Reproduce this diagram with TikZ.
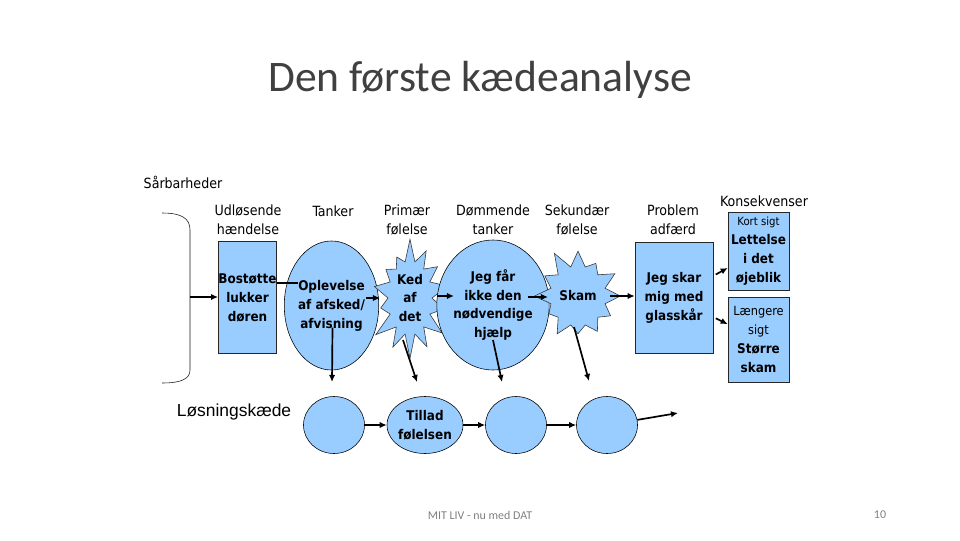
\documentclass[tikz,border=0pt]{standalone}
\usepackage{fontspec}
\setmainfont{Carlito}
\newfontfamily\labelfont{DejaVu Sans Condensed}
\newfontfamily\arialfont{Liberation Sans}
\usetikzlibrary{shapes.geometric,shapes.symbols,arrows.meta,calc}
\definecolor{boxblue}{RGB}{153,204,255}

\begin{document}
\begin{tikzpicture}[x=0.025cm,y=-0.025cm,
    lbl/.style={font=\labelfont\fontsize{10}{13.5}\selectfont, align=center, inner sep=0pt},
    chainbox/.style={draw=black!85, fill=boxblue, align=center, inner sep=0pt,
        font=\labelfont\bfseries\fontsize{9.5}{13.5}\selectfont},
    chainoval/.style={chainbox, draw=black, shape=ellipse},
    burst/.style={chainbox, draw=black!80, shape=starburst, starburst points=14,
        starburst point height=0.6cm, random starburst=7},
    arr/.style={-{Latex[length=5pt,width=4.5pt]}, line width=1.2pt}]
    \useasboundingbox (0,0) rectangle (960,540);

    % Title
    \node[text=black!75] (title) at (480,80) {\fontsize{31}{36}\selectfont Den første kædeanalyse};

    % Column headings
    \node[lbl] (sarb) at (183,182) {Sårbarheder};
    \node[lbl] (hudl) at (248,220) {Udløsende\\hændelse};
    \node[lbl] (htank) at (333,211) {Tanker};
    \node[lbl] (hprim) at (407,220) {Primær\\følelse};
    \node[lbl] (hdoem) at (493,220) {Dømmende\\tanker};
    \node[lbl] (hsek) at (577,220) {Sekundær\\følelse};
    \node[lbl] (hprob) at (673,220) {Problem\\adfærd};
    \node[lbl] (hkons) at (764,201) {Konsekvenser};

    % Bracket for vulnerabilities
    \draw[black!90] (162,213) .. controls (181,213) and (190,218) .. (190,230) -- (190,370)
        .. controls (190,379) and (181,383) .. (162,383);
    \coordinate (brk) at (190,297);

    % Chain analysis
    \node[chainbox, minimum width=1.45cm, minimum height=2.8cm] (bost) at (247.5,297.5) {Bostøtte\\lukker\\døren};
    \node[chainoval, minimum width=1.775cm, minimum height=3.225cm] (tank) at (331.5,305.5) {Oplevelse\\af afsked/\\afvisning};
    \node[burst, minimum width=2.3cm, minimum height=3.05cm] (ked) at (410,298) {Ked\\af\\det};
    \node[chainoval, minimum width=2cm, minimum height=3.25cm] (doem) at (493,305) {Jeg får\\ikke den\\nødvendige\\hjælp};
    \node[burst, minimum width=2.4cm, minimum height=2.5cm, starburst points=12,
        starburst point height=0.5cm, random starburst=11] (skam) at (578,296) {Skam};
    \node[chainbox, minimum width=1.95cm, minimum height=2.775cm] (prob) at (674,297.5) {Jeg skar\\mig med\\glasskår};
    \node[chainbox, minimum width=1.525cm, minimum height=1.95cm] (kort) at (758.5,251)
        {{\mdseries\fontsize{8}{13}\selectfont Kort sigt}\\Lettelse\\i det\\øjeblik};
    \node[chainbox, minimum width=1.525cm, minimum height=2.125cm] (lang) at (758.5,339.5)
        {{\mdseries\fontsize{9}{13.5}\selectfont Længere}\\{\mdseries\fontsize{9}{13.5}\selectfont sigt}\\Større\\skam};

    \draw[arr] (brk) -- (bost.west |- brk);
    \draw[line width=1.2pt] (bost.east |- 0,283) -- (298,283);
    \draw[arr] (366,298) -- (380,298);
    \draw[arr] (437,296) -- (454,296);
    \draw[arr] (528,297) -- (548,297);
    \draw[arr] (610,296) -- (prob.west |- 0,296);
    \draw[arr, shorten <=2pt] (prob) -- (kort);
    \draw[arr, shorten <=2pt] (prob) -- (lang);

    % Solution chain
    \node[font=\arialfont\fontsize{12.4}{15}\selectfont] (losn) at (234,412) {Løsningskæde};
    \node[chainoval, minimum width=1.525cm, minimum height=1.425cm] (c1) at (334,425) {};
    \node[chainoval, minimum width=1.525cm, minimum height=1.425cm] (c2) at (425,425) {Tillad\\følelsen};
    \node[chainoval, minimum width=1.525cm, minimum height=1.425cm] (c3) at (516,425) {};
    \node[chainoval, minimum width=1.525cm, minimum height=1.425cm] (c4) at (607,425) {};
    \coordinate (cend) at (678,413);

    \draw[arr] (c1) -- (c2);
    \draw[arr] (c2) -- (c3);
    \draw[arr] (c3) -- (c4);
    \draw[arr] (c4) -- (cend);

    % Links down to the solution chain
    \draw[arr] ($(tank.center)+(1,22)$) -- (332,382);
    \draw[arr] ($(ked.center)+(-7,42)$) -- (417,382);
    \draw[arr] ($(doem.center)+(0,35)$) -- (502,382);
    \draw[arr] ($(skam.center)+(-4,31)$) -- (589,381);

    % Footer
    \node[text=black!50, font=\fontsize{8.5}{10}\selectfont] (foot) at (480,515) {MIT LIV - nu med DAT};
    \node[text=black!50, font=\fontsize{8.5}{10}\selectfont] (pnum) at (880,515) {10};
\end{tikzpicture}
\end{document}
